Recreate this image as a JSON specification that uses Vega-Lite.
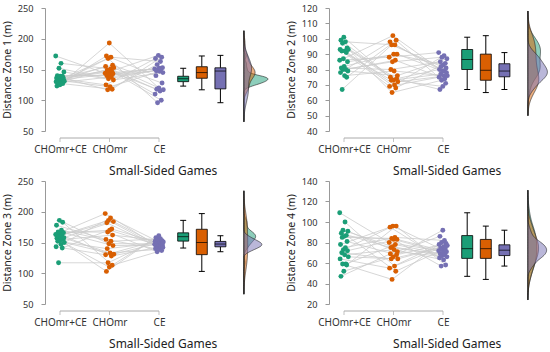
{
"$schema": "https://vega.github.io/schema/vega-lite/v6.json",
"padding": {"left": 2, "top": 4, "right": 0, "bottom": 8},
"data": {"values": [
{"z":1,"s":1,"g":"CHOmr+CE","v":172},{"z":1,"s":2,"g":"CHOmr+CE","v":130},{"z":1,"s":3,"g":"CHOmr+CE","v":136},{"z":1,"s":4,"g":"CHOmr+CE","v":123},{"z":1,"s":5,"g":"CHOmr+CE","v":140},{"z":1,"s":6,"g":"CHOmr+CE","v":133},{"z":1,"s":7,"g":"CHOmr+CE","v":138},{"z":1,"s":8,"g":"CHOmr+CE","v":128},{"z":1,"s":9,"g":"CHOmr+CE","v":152},{"z":1,"s":10,"g":"CHOmr+CE","v":135},{"z":1,"s":11,"g":"CHOmr+CE","v":125},{"z":1,"s":12,"g":"CHOmr+CE","v":139},{"z":1,"s":13,"g":"CHOmr+CE","v":132},{"z":1,"s":14,"g":"CHOmr+CE","v":160},{"z":1,"s":15,"g":"CHOmr+CE","v":135},{"z":1,"s":16,"g":"CHOmr+CE","v":129},{"z":1,"s":17,"g":"CHOmr+CE","v":139},{"z":1,"s":18,"g":"CHOmr+CE","v":127},{"z":1,"s":19,"g":"CHOmr+CE","v":137},{"z":1,"s":20,"g":"CHOmr+CE","v":134},{"z":1,"s":21,"g":"CHOmr+CE","v":146},{"z":1,"s":22,"g":"CHOmr+CE","v":131},
{"z":1,"s":1,"g":"CHOmr","v":144},{"z":1,"s":2,"g":"CHOmr","v":155},{"z":1,"s":3,"g":"CHOmr","v":125},{"z":1,"s":4,"g":"CHOmr","v":172},{"z":1,"s":5,"g":"CHOmr","v":140},{"z":1,"s":6,"g":"CHOmr","v":149},{"z":1,"s":7,"g":"CHOmr","v":117},{"z":1,"s":8,"g":"CHOmr","v":168},{"z":1,"s":9,"g":"CHOmr","v":135},{"z":1,"s":10,"g":"CHOmr","v":146},{"z":1,"s":11,"g":"CHOmr","v":193},{"z":1,"s":12,"g":"CHOmr","v":141},{"z":1,"s":13,"g":"CHOmr","v":122},{"z":1,"s":14,"g":"CHOmr","v":151},{"z":1,"s":15,"g":"CHOmr","v":170},{"z":1,"s":16,"g":"CHOmr","v":138},{"z":1,"s":17,"g":"CHOmr","v":147},{"z":1,"s":18,"g":"CHOmr","v":118},{"z":1,"s":19,"g":"CHOmr","v":157},{"z":1,"s":20,"g":"CHOmr","v":143},{"z":1,"s":21,"g":"CHOmr","v":133},{"z":1,"s":22,"g":"CHOmr","v":153},
{"z":1,"s":1,"g":"CE","v":151},{"z":1,"s":2,"g":"CE","v":110},{"z":1,"s":3,"g":"CE","v":168},{"z":1,"s":4,"g":"CE","v":140},{"z":1,"s":5,"g":"CE","v":148},{"z":1,"s":6,"g":"CE","v":118},{"z":1,"s":7,"g":"CE","v":158},{"z":1,"s":8,"g":"CE","v":96},{"z":1,"s":9,"g":"CE","v":149},{"z":1,"s":10,"g":"CE","v":173},{"z":1,"s":11,"g":"CE","v":120},{"z":1,"s":12,"g":"CE","v":152},{"z":1,"s":13,"g":"CE","v":147},{"z":1,"s":14,"g":"CE","v":115},{"z":1,"s":15,"g":"CE","v":163},{"z":1,"s":16,"g":"CE","v":150},{"z":1,"s":17,"g":"CE","v":100},{"z":1,"s":18,"g":"CE","v":170},{"z":1,"s":19,"g":"CE","v":128},{"z":1,"s":20,"g":"CE","v":153},{"z":1,"s":21,"g":"CE","v":145},{"z":1,"s":22,"g":"CE","v":117},
{"z":2,"s":1,"g":"CHOmr+CE","v":86},{"z":2,"s":2,"g":"CHOmr+CE","v":93},{"z":2,"s":3,"g":"CHOmr+CE","v":78},{"z":2,"s":4,"g":"CHOmr+CE","v":99},{"z":2,"s":5,"g":"CHOmr+CE","v":81},{"z":2,"s":6,"g":"CHOmr+CE","v":92},{"z":2,"s":7,"g":"CHOmr+CE","v":67},{"z":2,"s":8,"g":"CHOmr+CE","v":97},{"z":2,"s":9,"g":"CHOmr+CE","v":80},{"z":2,"s":10,"g":"CHOmr+CE","v":87},{"z":2,"s":11,"g":"CHOmr+CE","v":101},{"z":2,"s":12,"g":"CHOmr+CE","v":82},{"z":2,"s":13,"g":"CHOmr+CE","v":76},{"z":2,"s":14,"g":"CHOmr+CE","v":92},{"z":2,"s":15,"g":"CHOmr+CE","v":98},{"z":2,"s":16,"g":"CHOmr+CE","v":80},{"z":2,"s":17,"g":"CHOmr+CE","v":91},{"z":2,"s":18,"g":"CHOmr+CE","v":75},{"z":2,"s":19,"g":"CHOmr+CE","v":94},{"z":2,"s":20,"g":"CHOmr+CE","v":85},{"z":2,"s":21,"g":"CHOmr+CE","v":79},{"z":2,"s":22,"g":"CHOmr+CE","v":93},
{"z":2,"s":1,"g":"CHOmr","v":88},{"z":2,"s":2,"g":"CHOmr","v":69},{"z":2,"s":3,"g":"CHOmr","v":98},{"z":2,"s":4,"g":"CHOmr","v":75},{"z":2,"s":5,"g":"CHOmr","v":80},{"z":2,"s":6,"g":"CHOmr","v":73},{"z":2,"s":7,"g":"CHOmr","v":96},{"z":2,"s":8,"g":"CHOmr","v":65},{"z":2,"s":9,"g":"CHOmr","v":85},{"z":2,"s":10,"g":"CHOmr","v":102},{"z":2,"s":11,"g":"CHOmr","v":73},{"z":2,"s":12,"g":"CHOmr","v":90},{"z":2,"s":13,"g":"CHOmr","v":79},{"z":2,"s":14,"g":"CHOmr","v":70},{"z":2,"s":15,"g":"CHOmr","v":96},{"z":2,"s":16,"g":"CHOmr","v":86},{"z":2,"s":17,"g":"CHOmr","v":68},{"z":2,"s":18,"g":"CHOmr","v":99},{"z":2,"s":19,"g":"CHOmr","v":74},{"z":2,"s":20,"g":"CHOmr","v":90},{"z":2,"s":21,"g":"CHOmr","v":76},{"z":2,"s":22,"g":"CHOmr","v":72},
{"z":2,"s":1,"g":"CE","v":91},{"z":2,"s":2,"g":"CE","v":75},{"z":2,"s":3,"g":"CE","v":80},{"z":2,"s":4,"g":"CE","v":67},{"z":2,"s":5,"g":"CE","v":85},{"z":2,"s":6,"g":"CE","v":77},{"z":2,"s":7,"g":"CE","v":82},{"z":2,"s":8,"g":"CE","v":73},{"z":2,"s":9,"g":"CE","v":88},{"z":2,"s":10,"g":"CE","v":79},{"z":2,"s":11,"g":"CE","v":69},{"z":2,"s":12,"g":"CE","v":83},{"z":2,"s":13,"g":"CE","v":76},{"z":2,"s":14,"g":"CE","v":89},{"z":2,"s":15,"g":"CE","v":79},{"z":2,"s":16,"g":"CE","v":74},{"z":2,"s":17,"g":"CE","v":84},{"z":2,"s":18,"g":"CE","v":71},{"z":2,"s":19,"g":"CE","v":81},{"z":2,"s":20,"g":"CE","v":78},{"z":2,"s":21,"g":"CE","v":87},{"z":2,"s":22,"g":"CE","v":76},
{"z":3,"s":1,"g":"CHOmr+CE","v":163},{"z":3,"s":2,"g":"CHOmr+CE","v":143},{"z":3,"s":3,"g":"CHOmr+CE","v":178},{"z":3,"s":4,"g":"CHOmr+CE","v":157},{"z":3,"s":5,"g":"CHOmr+CE","v":160},{"z":3,"s":6,"g":"CHOmr+CE","v":152},{"z":3,"s":7,"g":"CHOmr+CE","v":167},{"z":3,"s":8,"g":"CHOmr+CE","v":117},{"z":3,"s":9,"g":"CHOmr+CE","v":161},{"z":3,"s":10,"g":"CHOmr+CE","v":186},{"z":3,"s":11,"g":"CHOmr+CE","v":153},{"z":3,"s":12,"g":"CHOmr+CE","v":165},{"z":3,"s":13,"g":"CHOmr+CE","v":159},{"z":3,"s":14,"g":"CHOmr+CE","v":147},{"z":3,"s":15,"g":"CHOmr+CE","v":170},{"z":3,"s":16,"g":"CHOmr+CE","v":162},{"z":3,"s":17,"g":"CHOmr+CE","v":141},{"z":3,"s":18,"g":"CHOmr+CE","v":183},{"z":3,"s":19,"g":"CHOmr+CE","v":155},{"z":3,"s":20,"g":"CHOmr+CE","v":166},{"z":3,"s":21,"g":"CHOmr+CE","v":158},{"z":3,"s":22,"g":"CHOmr+CE","v":150},
{"z":3,"s":1,"g":"CHOmr","v":197},{"z":3,"s":2,"g":"CHOmr","v":130},{"z":3,"s":3,"g":"CHOmr","v":155},{"z":3,"s":4,"g":"CHOmr","v":103},{"z":3,"s":5,"g":"CHOmr","v":182},{"z":3,"s":6,"g":"CHOmr","v":140},{"z":3,"s":7,"g":"CHOmr","v":167},{"z":3,"s":8,"g":"CHOmr","v":117},{"z":3,"s":9,"g":"CHOmr","v":186},{"z":3,"s":10,"g":"CHOmr","v":148},{"z":3,"s":11,"g":"CHOmr","v":110},{"z":3,"s":12,"g":"CHOmr","v":170},{"z":3,"s":13,"g":"CHOmr","v":133},{"z":3,"s":14,"g":"CHOmr","v":190},{"z":3,"s":15,"g":"CHOmr","v":152},{"z":3,"s":16,"g":"CHOmr","v":128},{"z":3,"s":17,"g":"CHOmr","v":172},{"z":3,"s":18,"g":"CHOmr","v":113},{"z":3,"s":19,"g":"CHOmr","v":162},{"z":3,"s":20,"g":"CHOmr","v":145},{"z":3,"s":21,"g":"CHOmr","v":184},{"z":3,"s":22,"g":"CHOmr","v":131},
{"z":3,"s":1,"g":"CE","v":147},{"z":3,"s":2,"g":"CE","v":152},{"z":3,"s":3,"g":"CE","v":140},{"z":3,"s":4,"g":"CE","v":158},{"z":3,"s":5,"g":"CE","v":144},{"z":3,"s":6,"g":"CE","v":149},{"z":3,"s":7,"g":"CE","v":135},{"z":3,"s":8,"g":"CE","v":155},{"z":3,"s":9,"g":"CE","v":143},{"z":3,"s":10,"g":"CE","v":148},{"z":3,"s":11,"g":"CE","v":161},{"z":3,"s":12,"g":"CE","v":145},{"z":3,"s":13,"g":"CE","v":139},{"z":3,"s":14,"g":"CE","v":150},{"z":3,"s":15,"g":"CE","v":156},{"z":3,"s":16,"g":"CE","v":143},{"z":3,"s":17,"g":"CE","v":148},{"z":3,"s":18,"g":"CE","v":137},{"z":3,"s":19,"g":"CE","v":153},{"z":3,"s":20,"g":"CE","v":146},{"z":3,"s":21,"g":"CE","v":142},{"z":3,"s":22,"g":"CE","v":151},
{"z":4,"s":1,"g":"CHOmr+CE","v":109},{"z":4,"s":2,"g":"CHOmr+CE","v":64},{"z":4,"s":3,"g":"CHOmr+CE","v":78},{"z":4,"s":4,"g":"CHOmr+CE","v":47},{"z":4,"s":5,"g":"CHOmr+CE","v":89},{"z":4,"s":6,"g":"CHOmr+CE","v":70},{"z":4,"s":7,"g":"CHOmr+CE","v":85},{"z":4,"s":8,"g":"CHOmr+CE","v":59},{"z":4,"s":9,"g":"CHOmr+CE","v":92},{"z":4,"s":10,"g":"CHOmr+CE","v":73},{"z":4,"s":11,"g":"CHOmr+CE","v":52},{"z":4,"s":12,"g":"CHOmr+CE","v":86},{"z":4,"s":13,"g":"CHOmr+CE","v":68},{"z":4,"s":14,"g":"CHOmr+CE","v":100},{"z":4,"s":15,"g":"CHOmr+CE","v":75},{"z":4,"s":16,"g":"CHOmr+CE","v":59},{"z":4,"s":17,"g":"CHOmr+CE","v":87},{"z":4,"s":18,"g":"CHOmr+CE","v":58},{"z":4,"s":19,"g":"CHOmr+CE","v":81},{"z":4,"s":20,"g":"CHOmr+CE","v":72},{"z":4,"s":21,"g":"CHOmr+CE","v":91},{"z":4,"s":22,"g":"CHOmr+CE","v":66},
{"z":4,"s":1,"g":"CHOmr","v":80},{"z":4,"s":2,"g":"CHOmr","v":55},{"z":4,"s":3,"g":"CHOmr","v":95},{"z":4,"s":4,"g":"CHOmr","v":69},{"z":4,"s":5,"g":"CHOmr","v":75},{"z":4,"s":6,"g":"CHOmr","v":64},{"z":4,"s":7,"g":"CHOmr","v":84},{"z":4,"s":8,"g":"CHOmr","v":44},{"z":4,"s":9,"g":"CHOmr","v":76},{"z":4,"s":10,"g":"CHOmr","v":96},{"z":4,"s":11,"g":"CHOmr","v":66},{"z":4,"s":12,"g":"CHOmr","v":83},{"z":4,"s":13,"g":"CHOmr","v":73},{"z":4,"s":14,"g":"CHOmr","v":57},{"z":4,"s":15,"g":"CHOmr","v":85},{"z":4,"s":16,"g":"CHOmr","v":78},{"z":4,"s":17,"g":"CHOmr","v":52},{"z":4,"s":18,"g":"CHOmr","v":96},{"z":4,"s":19,"g":"CHOmr","v":68},{"z":4,"s":20,"g":"CHOmr","v":83},{"z":4,"s":21,"g":"CHOmr","v":71},{"z":4,"s":22,"g":"CHOmr","v":64},
{"z":4,"s":1,"g":"CE","v":72},{"z":4,"s":2,"g":"CE","v":78},{"z":4,"s":3,"g":"CE","v":65},{"z":4,"s":4,"g":"CE","v":86},{"z":4,"s":5,"g":"CE","v":69},{"z":4,"s":6,"g":"CE","v":75},{"z":4,"s":7,"g":"CE","v":57},{"z":4,"s":8,"g":"CE","v":80},{"z":4,"s":9,"g":"CE","v":67},{"z":4,"s":10,"g":"CE","v":73},{"z":4,"s":11,"g":"CE","v":92},{"z":4,"s":12,"g":"CE","v":70},{"z":4,"s":13,"g":"CE","v":63},{"z":4,"s":14,"g":"CE","v":76},{"z":4,"s":15,"g":"CE","v":82},{"z":4,"s":16,"g":"CE","v":68},{"z":4,"s":17,"g":"CE","v":74},{"z":4,"s":18,"g":"CE","v":58},{"z":4,"s":19,"g":"CE","v":79},{"z":4,"s":20,"g":"CE","v":71},{"z":4,"s":21,"g":"CE","v":66},{"z":4,"s":22,"g":"CE","v":77}
]},
"columns": 2,
"spacing": {"row": 0, "column": 16},
"concat": [
{
 "transform": [{"filter": "datum.z == 1"}],
 "spacing": 0, "bounds": "flush",
 "title": {"text": "Small-Sided Games", "orient": "bottom", "anchor": "middle", "fontSize": 12, "fontWeight": "normal", "color": "#222222", "offset": 12, "dx": 27},
 "hconcat": [
  {"width": 99, "height": 123,
   "layer": [
    {"transform": [{"aggregate": [{"op": "count", "as": "n"}], "groupby": ["g"]}],
     "mark": {"type": "line", "color": "#aaaaaa", "strokeWidth": 1, "yOffset": 7},
     "encoding": {
      "x": {"field": "g", "type": "nominal", "scale": {"type": "point", "domain": ["CHOmr+CE","CHOmr","CE"], "padding": 0}, "axis": {"title": null, "offset": 7, "labelAngle": 0}},
      "y": {"datum": 50, "type": "quantitative", "scale": {"domain": [50, 250], "nice": false, "zero": false}, "axis": {"title": "Distance Zone 1 (m)", "values": [50,100,150,200,250], "offset": 15}}
     }},
    {"transform": [{"aggregate": [{"op": "count", "as": "n"}], "groupby": ["g"]}],
     "mark": {"type": "tick", "orient": "vertical", "color": "#aaaaaa", "size": 4, "thickness": 1, "yOffset": 9},
     "encoding": {
      "x": {"field": "g", "type": "nominal", "scale": {"type": "point", "domain": ["CHOmr+CE","CHOmr","CE"], "padding": 0}, "axis": {"title": null, "offset": 7, "labelAngle": 0}},
      "y": {"datum": 50, "type": "quantitative", "scale": {"domain": [50, 250], "nice": false, "zero": false}, "axis": {"title": "Distance Zone 1 (m)", "values": [50,100,150,200,250], "offset": 15}}
     }},
    {"mark": {"type": "line", "color": "#cccccc", "strokeWidth": 0.8},
     "encoding": {
      "x": {"field": "g", "type": "nominal", "scale": {"type": "point", "domain": ["CHOmr+CE","CHOmr","CE"], "padding": 0}, "axis": {"title": null, "offset": 7, "labelAngle": 0}},
      "xOffset": {"field": "s", "type": "nominal", "scale": {"range": [-4.5, 4.5]}},
      "y": {"field": "v", "type": "quantitative", "scale": {"domain": [50, 250], "nice": false, "zero": false}, "axis": {"title": "Distance Zone 1 (m)", "values": [50,100,150,200,250], "offset": 15}},
      "detail": {"field": "s", "type": "nominal"}
     }},
    {"mark": {"type": "circle", "size": 24, "opacity": 1},
     "encoding": {
      "x": {"field": "g", "type": "nominal", "scale": {"type": "point", "domain": ["CHOmr+CE","CHOmr","CE"], "padding": 0}, "axis": {"title": null, "offset": 7, "labelAngle": 0}},
      "xOffset": {"field": "s", "type": "nominal", "scale": {"range": [-4.5, 4.5]}},
      "y": {"field": "v", "type": "quantitative", "scale": {"domain": [50, 250], "nice": false, "zero": false}, "axis": {"title": "Distance Zone 1 (m)", "values": [50,100,150,200,250], "offset": 15}},
      "color": {"field": "g", "type": "nominal", "scale": {"domain": ["CHOmr+CE","CHOmr","CE"], "range": ["#1b9e77","#d95f02","#7570b3"]}, "legend": null}
     }}
   ]},
  {"width": 67, "height": 123,
   "mark": {"type": "boxplot", "extent": 1.5, "outliers": false, "size": 11, "ticks": {"color": "black", "size": 6}, "median": {"color": "black", "strokeWidth": 1.5}, "box": {"stroke": "black", "strokeWidth": 0.8}, "rule": {"color": "black"}},
   "encoding": {
    "x": {"field": "g", "type": "nominal", "scale": {"type": "point", "domain": ["_pad","CHOmr+CE","CHOmr","CE"], "padding": 0.3}, "axis": null},
    "y": {"field": "v", "type": "quantitative", "scale": {"domain": [50, 250], "nice": false, "zero": false}, "axis": null},
    "color": {"field": "g", "type": "nominal", "scale": {"domain": ["CHOmr+CE","CHOmr","CE"], "range": ["#1b9e77","#d95f02","#7570b3"]}, "legend": null}
   }},
  {"width": 44, "height": 123,
   "transform": [{"density": "v", "groupby": ["g"], "extent": [65, 213], "steps": 150}],
   "mark": {"type": "area", "orient": "horizontal", "fillOpacity": 0.5, "stroke": "#222222", "strokeWidth": 0.6},
   "encoding": {
    "y": {"field": "value", "type": "quantitative", "scale": {"domain": [50, 250], "nice": false, "zero": false}, "axis": null},
    "x": {"field": "density", "type": "quantitative", "stack": null, "scale": {"domain": [-0.037, 0.054], "nice": false, "zero": false}, "axis": null},
    "color": {"field": "g", "type": "nominal", "scale": {"domain": ["CHOmr+CE","CHOmr","CE"], "range": ["#1b9e77","#d95f02","#7570b3"]}, "legend": null}
   }}
 ]
},
{
 "transform": [{"filter": "datum.z == 2"}],
 "spacing": 0, "bounds": "flush",
 "title": {"text": "Small-Sided Games", "orient": "bottom", "anchor": "middle", "fontSize": 12, "fontWeight": "normal", "color": "#222222", "offset": 12, "dx": 27},
 "hconcat": [
  {"width": 99, "height": 123,
   "layer": [
    {"transform": [{"aggregate": [{"op": "count", "as": "n"}], "groupby": ["g"]}],
     "mark": {"type": "line", "color": "#aaaaaa", "strokeWidth": 1, "yOffset": 7},
     "encoding": {
      "x": {"field": "g", "type": "nominal", "scale": {"type": "point", "domain": ["CHOmr+CE","CHOmr","CE"], "padding": 0}, "axis": {"title": null, "offset": 7, "labelAngle": 0}},
      "y": {"datum": 40, "type": "quantitative", "scale": {"domain": [40, 120], "nice": false, "zero": false}, "axis": {"title": "Distance Zone 2 (m)", "values": [40,50,60,70,80,90,100,110,120], "offset": 15}}
     }},
    {"transform": [{"aggregate": [{"op": "count", "as": "n"}], "groupby": ["g"]}],
     "mark": {"type": "tick", "orient": "vertical", "color": "#aaaaaa", "size": 4, "thickness": 1, "yOffset": 9},
     "encoding": {
      "x": {"field": "g", "type": "nominal", "scale": {"type": "point", "domain": ["CHOmr+CE","CHOmr","CE"], "padding": 0}, "axis": {"title": null, "offset": 7, "labelAngle": 0}},
      "y": {"datum": 40, "type": "quantitative", "scale": {"domain": [40, 120], "nice": false, "zero": false}, "axis": {"title": "Distance Zone 2 (m)", "values": [40,50,60,70,80,90,100,110,120], "offset": 15}}
     }},
    {"mark": {"type": "line", "color": "#cccccc", "strokeWidth": 0.8},
     "encoding": {
      "x": {"field": "g", "type": "nominal", "scale": {"type": "point", "domain": ["CHOmr+CE","CHOmr","CE"], "padding": 0}, "axis": {"title": null, "offset": 7, "labelAngle": 0}},
      "xOffset": {"field": "s", "type": "nominal", "scale": {"range": [-4.5, 4.5]}},
      "y": {"field": "v", "type": "quantitative", "scale": {"domain": [40, 120], "nice": false, "zero": false}, "axis": {"title": "Distance Zone 2 (m)", "values": [40,50,60,70,80,90,100,110,120], "offset": 15}},
      "detail": {"field": "s", "type": "nominal"}
     }},
    {"mark": {"type": "circle", "size": 24, "opacity": 1},
     "encoding": {
      "x": {"field": "g", "type": "nominal", "scale": {"type": "point", "domain": ["CHOmr+CE","CHOmr","CE"], "padding": 0}, "axis": {"title": null, "offset": 7, "labelAngle": 0}},
      "xOffset": {"field": "s", "type": "nominal", "scale": {"range": [-4.5, 4.5]}},
      "y": {"field": "v", "type": "quantitative", "scale": {"domain": [40, 120], "nice": false, "zero": false}, "axis": {"title": "Distance Zone 2 (m)", "values": [40,50,60,70,80,90,100,110,120], "offset": 15}},
      "color": {"field": "g", "type": "nominal", "scale": {"domain": ["CHOmr+CE","CHOmr","CE"], "range": ["#1b9e77","#d95f02","#7570b3"]}, "legend": null}
     }}
   ]},
  {"width": 67, "height": 123,
   "mark": {"type": "boxplot", "extent": 1.5, "outliers": false, "size": 11, "ticks": {"color": "black", "size": 6}, "median": {"color": "black", "strokeWidth": 1.5}, "box": {"stroke": "black", "strokeWidth": 0.8}, "rule": {"color": "black"}},
   "encoding": {
    "x": {"field": "g", "type": "nominal", "scale": {"type": "point", "domain": ["_pad","CHOmr+CE","CHOmr","CE"], "padding": 0.3}, "axis": null},
    "y": {"field": "v", "type": "quantitative", "scale": {"domain": [40, 120], "nice": false, "zero": false}, "axis": null},
    "color": {"field": "g", "type": "nominal", "scale": {"domain": ["CHOmr+CE","CHOmr","CE"], "range": ["#1b9e77","#d95f02","#7570b3"]}, "legend": null}
   }},
  {"width": 44, "height": 123,
   "transform": [{"density": "v", "groupby": ["g"], "extent": [50, 118], "steps": 150}],
   "mark": {"type": "area", "orient": "horizontal", "fillOpacity": 0.5, "stroke": "#222222", "strokeWidth": 0.6},
   "encoding": {
    "y": {"field": "value", "type": "quantitative", "scale": {"domain": [40, 120], "nice": false, "zero": false}, "axis": null},
    "x": {"field": "density", "type": "quantitative", "stack": null, "scale": {"domain": [-0.048, 0.07], "nice": false, "zero": false}, "axis": null},
    "color": {"field": "g", "type": "nominal", "scale": {"domain": ["CHOmr+CE","CHOmr","CE"], "range": ["#1b9e77","#d95f02","#7570b3"]}, "legend": null}
   }}
 ]
},
{
 "transform": [{"filter": "datum.z == 3"}],
 "spacing": 0, "bounds": "flush",
 "title": {"text": "Small-Sided Games", "orient": "bottom", "anchor": "middle", "fontSize": 12, "fontWeight": "normal", "color": "#222222", "offset": 12, "dx": 27},
 "hconcat": [
  {"width": 99, "height": 123,
   "layer": [
    {"transform": [{"aggregate": [{"op": "count", "as": "n"}], "groupby": ["g"]}],
     "mark": {"type": "line", "color": "#aaaaaa", "strokeWidth": 1, "yOffset": 7},
     "encoding": {
      "x": {"field": "g", "type": "nominal", "scale": {"type": "point", "domain": ["CHOmr+CE","CHOmr","CE"], "padding": 0}, "axis": {"title": null, "offset": 7, "labelAngle": 0}},
      "y": {"datum": 50, "type": "quantitative", "scale": {"domain": [50, 250], "nice": false, "zero": false}, "axis": {"title": "Distance Zone 3 (m)", "values": [50,100,150,200,250], "offset": 15}}
     }},
    {"transform": [{"aggregate": [{"op": "count", "as": "n"}], "groupby": ["g"]}],
     "mark": {"type": "tick", "orient": "vertical", "color": "#aaaaaa", "size": 4, "thickness": 1, "yOffset": 9},
     "encoding": {
      "x": {"field": "g", "type": "nominal", "scale": {"type": "point", "domain": ["CHOmr+CE","CHOmr","CE"], "padding": 0}, "axis": {"title": null, "offset": 7, "labelAngle": 0}},
      "y": {"datum": 50, "type": "quantitative", "scale": {"domain": [50, 250], "nice": false, "zero": false}, "axis": {"title": "Distance Zone 3 (m)", "values": [50,100,150,200,250], "offset": 15}}
     }},
    {"mark": {"type": "line", "color": "#cccccc", "strokeWidth": 0.8},
     "encoding": {
      "x": {"field": "g", "type": "nominal", "scale": {"type": "point", "domain": ["CHOmr+CE","CHOmr","CE"], "padding": 0}, "axis": {"title": null, "offset": 7, "labelAngle": 0}},
      "xOffset": {"field": "s", "type": "nominal", "scale": {"range": [-4.5, 4.5]}},
      "y": {"field": "v", "type": "quantitative", "scale": {"domain": [50, 250], "nice": false, "zero": false}, "axis": {"title": "Distance Zone 3 (m)", "values": [50,100,150,200,250], "offset": 15}},
      "detail": {"field": "s", "type": "nominal"}
     }},
    {"mark": {"type": "circle", "size": 24, "opacity": 1},
     "encoding": {
      "x": {"field": "g", "type": "nominal", "scale": {"type": "point", "domain": ["CHOmr+CE","CHOmr","CE"], "padding": 0}, "axis": {"title": null, "offset": 7, "labelAngle": 0}},
      "xOffset": {"field": "s", "type": "nominal", "scale": {"range": [-4.5, 4.5]}},
      "y": {"field": "v", "type": "quantitative", "scale": {"domain": [50, 250], "nice": false, "zero": false}, "axis": {"title": "Distance Zone 3 (m)", "values": [50,100,150,200,250], "offset": 15}},
      "color": {"field": "g", "type": "nominal", "scale": {"domain": ["CHOmr+CE","CHOmr","CE"], "range": ["#1b9e77","#d95f02","#7570b3"]}, "legend": null}
     }}
   ]},
  {"width": 67, "height": 123,
   "mark": {"type": "boxplot", "extent": 1.5, "outliers": false, "size": 11, "ticks": {"color": "black", "size": 6}, "median": {"color": "black", "strokeWidth": 1.5}, "box": {"stroke": "black", "strokeWidth": 0.8}, "rule": {"color": "black"}},
   "encoding": {
    "x": {"field": "g", "type": "nominal", "scale": {"type": "point", "domain": ["_pad","CHOmr+CE","CHOmr","CE"], "padding": 0.3}, "axis": null},
    "y": {"field": "v", "type": "quantitative", "scale": {"domain": [50, 250], "nice": false, "zero": false}, "axis": null},
    "color": {"field": "g", "type": "nominal", "scale": {"domain": ["CHOmr+CE","CHOmr","CE"], "range": ["#1b9e77","#d95f02","#7570b3"]}, "legend": null}
   }},
  {"width": 44, "height": 123,
   "transform": [{"density": "v", "groupby": ["g"], "extent": [66, 234], "steps": 150}],
   "mark": {"type": "area", "orient": "horizontal", "fillOpacity": 0.5, "stroke": "#222222", "strokeWidth": 0.6},
   "encoding": {
    "y": {"field": "value", "type": "quantitative", "scale": {"domain": [50, 250], "nice": false, "zero": false}, "axis": null},
    "x": {"field": "density", "type": "quantitative", "stack": null, "scale": {"domain": [-0.05, 0.073], "nice": false, "zero": false}, "axis": null},
    "color": {"field": "g", "type": "nominal", "scale": {"domain": ["CHOmr+CE","CHOmr","CE"], "range": ["#1b9e77","#d95f02","#7570b3"]}, "legend": null}
   }}
 ]
},
{
 "transform": [{"filter": "datum.z == 4"}],
 "spacing": 0, "bounds": "flush",
 "title": {"text": "Small-Sided Games", "orient": "bottom", "anchor": "middle", "fontSize": 12, "fontWeight": "normal", "color": "#222222", "offset": 12, "dx": 27},
 "hconcat": [
  {"width": 99, "height": 123,
   "layer": [
    {"transform": [{"aggregate": [{"op": "count", "as": "n"}], "groupby": ["g"]}],
     "mark": {"type": "line", "color": "#aaaaaa", "strokeWidth": 1, "yOffset": 7},
     "encoding": {
      "x": {"field": "g", "type": "nominal", "scale": {"type": "point", "domain": ["CHOmr+CE","CHOmr","CE"], "padding": 0}, "axis": {"title": null, "offset": 7, "labelAngle": 0}},
      "y": {"datum": 20, "type": "quantitative", "scale": {"domain": [20, 140], "nice": false, "zero": false}, "axis": {"title": "Distance Zone 4 (m)", "values": [20,40,60,80,100,120,140], "offset": 15}}
     }},
    {"transform": [{"aggregate": [{"op": "count", "as": "n"}], "groupby": ["g"]}],
     "mark": {"type": "tick", "orient": "vertical", "color": "#aaaaaa", "size": 4, "thickness": 1, "yOffset": 9},
     "encoding": {
      "x": {"field": "g", "type": "nominal", "scale": {"type": "point", "domain": ["CHOmr+CE","CHOmr","CE"], "padding": 0}, "axis": {"title": null, "offset": 7, "labelAngle": 0}},
      "y": {"datum": 20, "type": "quantitative", "scale": {"domain": [20, 140], "nice": false, "zero": false}, "axis": {"title": "Distance Zone 4 (m)", "values": [20,40,60,80,100,120,140], "offset": 15}}
     }},
    {"mark": {"type": "line", "color": "#cccccc", "strokeWidth": 0.8},
     "encoding": {
      "x": {"field": "g", "type": "nominal", "scale": {"type": "point", "domain": ["CHOmr+CE","CHOmr","CE"], "padding": 0}, "axis": {"title": null, "offset": 7, "labelAngle": 0}},
      "xOffset": {"field": "s", "type": "nominal", "scale": {"range": [-4.5, 4.5]}},
      "y": {"field": "v", "type": "quantitative", "scale": {"domain": [20, 140], "nice": false, "zero": false}, "axis": {"title": "Distance Zone 4 (m)", "values": [20,40,60,80,100,120,140], "offset": 15}},
      "detail": {"field": "s", "type": "nominal"}
     }},
    {"mark": {"type": "circle", "size": 24, "opacity": 1},
     "encoding": {
      "x": {"field": "g", "type": "nominal", "scale": {"type": "point", "domain": ["CHOmr+CE","CHOmr","CE"], "padding": 0}, "axis": {"title": null, "offset": 7, "labelAngle": 0}},
      "xOffset": {"field": "s", "type": "nominal", "scale": {"range": [-4.5, 4.5]}},
      "y": {"field": "v", "type": "quantitative", "scale": {"domain": [20, 140], "nice": false, "zero": false}, "axis": {"title": "Distance Zone 4 (m)", "values": [20,40,60,80,100,120,140], "offset": 15}},
      "color": {"field": "g", "type": "nominal", "scale": {"domain": ["CHOmr+CE","CHOmr","CE"], "range": ["#1b9e77","#d95f02","#7570b3"]}, "legend": null}
     }}
   ]},
  {"width": 67, "height": 123,
   "mark": {"type": "boxplot", "extent": 1.5, "outliers": false, "size": 11, "ticks": {"color": "black", "size": 6}, "median": {"color": "black", "strokeWidth": 1.5}, "box": {"stroke": "black", "strokeWidth": 0.8}, "rule": {"color": "black"}},
   "encoding": {
    "x": {"field": "g", "type": "nominal", "scale": {"type": "point", "domain": ["_pad","CHOmr+CE","CHOmr","CE"], "padding": 0.3}, "axis": null},
    "y": {"field": "v", "type": "quantitative", "scale": {"domain": [20, 140], "nice": false, "zero": false}, "axis": null},
    "color": {"field": "g", "type": "nominal", "scale": {"domain": ["CHOmr+CE","CHOmr","CE"], "range": ["#1b9e77","#d95f02","#7570b3"]}, "legend": null}
   }},
  {"width": 44, "height": 123,
   "transform": [{"density": "v", "groupby": ["g"], "extent": [24, 131], "steps": 150}],
   "mark": {"type": "area", "orient": "horizontal", "fillOpacity": 0.5, "stroke": "#222222", "strokeWidth": 0.6},
   "encoding": {
    "y": {"field": "value", "type": "quantitative", "scale": {"domain": [20, 140], "nice": false, "zero": false}, "axis": null},
    "x": {"field": "density", "type": "quantitative", "stack": null, "scale": {"domain": [-0.041, 0.06], "nice": false, "zero": false}, "axis": null},
    "color": {"field": "g", "type": "nominal", "scale": {"domain": ["CHOmr+CE","CHOmr","CE"], "range": ["#1b9e77","#d95f02","#7570b3"]}, "legend": null}
   }}
 ]
}
],
"config": {
 "view": {"stroke": null},
 "font": "Noto Sans",
 "axis": {"grid": false, "labelColor": "#333333", "titleColor": "#222222", "domainColor": "#999999", "domainWidth": 1, "tickColor": "#999999", "tickWidth": 1, "tickSize": 4, "titleFontWeight": "normal", "labelPadding": 2},
 "axisX": {"labelFontSize": 10, "labelAngle": 0, "domain": false, "ticks": false, "labelPadding": 6},
 "axisY": {"labelFontSize": 9.2, "titleFontSize": 10.5, "titlePadding": 5, "labelPadding": 8}
}
}
